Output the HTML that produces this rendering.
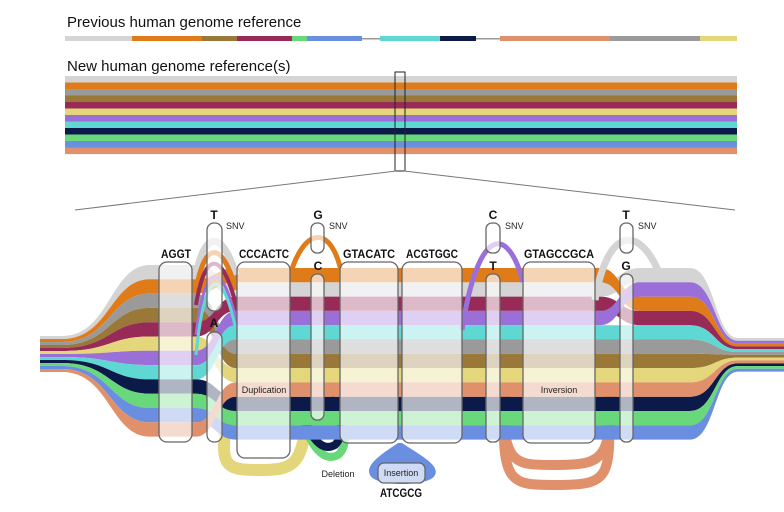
<!DOCTYPE html>
<html><head><meta charset="utf-8"><style>
html,body{margin:0;padding:0;background:#fff;width:784px;height:512px;overflow:hidden}
svg{display:block}
.t{font-family:"Liberation Sans",sans-serif;fill:#111}
.b{font-family:"Liberation Sans Narrow","Liberation Sans",sans-serif;font-weight:bold;font-size:12px;fill:#111;text-anchor:middle}
.s{font-family:"Liberation Sans Narrow","Liberation Sans",sans-serif;font-size:9px;fill:#222}
</style></head><body>
<svg id="sv" width="784" height="512" viewBox="0 0 784 512" xmlns="http://www.w3.org/2000/svg">
<text class="t" x="67" y="27" font-size="15">Previous human genome reference</text>
<g id="top"></g>
<text class="t" x="67" y="71" font-size="15">New human genome reference(s)</text>
<g id="stk"></g>
<rect x="395" y="72" width="10" height="99" fill="none" stroke="#222" stroke-width="1"/>
<line x1="396" y1="171" x2="75" y2="210" stroke="#777" stroke-width="1"/>
<line x1="404" y1="171" x2="735" y2="210" stroke="#777" stroke-width="1"/>
<g id="loops"></g>
<g id="bands"></g>
<g id="arcs"></g>
<g id="boxes" fill="#fff" fill-opacity="0.68" stroke="#666" stroke-width="1.3"></g>
<text class="b" x="176" y="258" textLength="30" lengthAdjust="spacingAndGlyphs">AGGT</text>
<text class="b" x="264" y="258" textLength="50" lengthAdjust="spacingAndGlyphs">CCCACTC</text>
<text class="b" x="369" y="258" textLength="52" lengthAdjust="spacingAndGlyphs">GTACATC</text>
<text class="b" x="432" y="258" textLength="52" lengthAdjust="spacingAndGlyphs">ACGTGGC</text>
<text class="b" x="559" y="258" textLength="70" lengthAdjust="spacingAndGlyphs">GTAGCCGCA</text>
<text class="b" x="214" y="219">T</text><text class="s" x="226" y="229">SNV</text>
<text class="b" x="214" y="327">A</text>
<text class="b" x="318" y="219">G</text><text class="s" x="329" y="229">SNV</text>
<text class="b" x="318" y="270">C</text>
<text class="b" x="493" y="219">C</text><text class="s" x="505" y="229">SNV</text>
<text class="b" x="493" y="270">T</text>
<text class="b" x="626" y="219">T</text><text class="s" x="638" y="229">SNV</text>
<text class="b" x="626" y="270">G</text>
<text class="s" x="264" y="393" text-anchor="middle" font-size="10">Duplication</text>
<text class="s" x="338" y="477" text-anchor="middle" font-size="10">Deletion</text>
<text class="s" x="401" y="476" text-anchor="middle" font-size="10">Insertion</text>
<text class="b" x="401" y="497" textLength="42" lengthAdjust="spacingAndGlyphs">ATCGCG</text>
<text class="s" x="559" y="393" text-anchor="middle" font-size="10">Inversion</text>
</svg>
<script>
var NS="http://www.w3.org/2000/svg";
function el(p,t,a){var e=document.createElementNS(NS,t);for(var k in a)e.setAttribute(k,a[k]);document.getElementById(p).appendChild(e);return e;}
var C={lg:"#d4d4d4",or:"#e07b1a",gr:"#9a9a9a",br:"#9a7838",ma:"#982a58",ye:"#e4d67a",pu:"#9b6fd8",cy:"#5fd8d4",na:"#0b1a48",gn:"#68d87a",bl:"#6a8ee0",sa:"#e0906a"};
[[65,132,"lg"],[132,202,"or"],[202,237,"br"],[237,292,"ma"],[292,307,"gn"],[307,362,"bl"],[380,440,"cy"],[440,476,"na"],[500,610,"sa"],[610,700,"gr"],[700,737,"ye"]].forEach(function(s){el("top","rect",{x:s[0],y:36,width:s[1]-s[0],height:5,fill:C[s[2]]});});
el("top","rect",{x:362,y:38,width:18,height:1.5,fill:"#999"});el("top","rect",{x:476,y:38,width:24,height:1.5,fill:"#999"});
var L=["lg","or","gr","br","ma","ye","pu","cy","na","gn","bl","sa"];
L.forEach(function(c,i){el("stk","rect",{x:65,y:76+i*6.5,width:672,height:6.6,fill:C[c]});});
var M=["or","lg","ma","pu","cy","gr","br","ye","sa","na","gn","bl"];
var R=["lg","pu","or","ma","cy","gr","br","ye","sa","na","gn","bl"];
var h=14.3;
L.forEach(function(c,li){
 var mi=M.indexOf(c),ri=R.indexOf(c);
 function edge(o){var a=336+li*3+(o?3:0),b=265+li*h+(o?h:0),m=268+mi*h+(o?h:0),d=268+ri*h+(o?h:0),e=338+ri*2.8+(o?2.8:0);
  return [a,b,m,d,e];}
 var t=edge(0),u=edge(1);
 var d="M40,"+t[0]+" L62,"+t[0]+" C110,"+t[0]+" 110,"+t[1]+" 150,"+t[1]+" L196,"+t[1]+" C216,"+t[1]+" 216,"+t[2]+" 236,"+t[2]+" L600,"+t[2]+" C620,"+t[2]+" 620,"+t[3]+" 640,"+t[3]+" L690,"+t[3]+" C715,"+t[3]+" 715,"+t[4]+" 738,"+t[4]+" L784,"+t[4]+
 " L784,"+u[4]+" L738,"+u[4]+" C715,"+u[4]+" 715,"+u[3]+" 690,"+u[3]+" L640,"+u[3]+" C620,"+u[3]+" 620,"+u[2]+" 600,"+u[2]+" L236,"+u[2]+" C216,"+u[2]+" 216,"+u[1]+" 196,"+u[1]+" L150,"+u[1]+" C110,"+u[1]+" 110,"+u[0]+" 62,"+u[0]+" L40,"+u[0]+" Z";
 el("bands","path",{d:d,fill:C[c]});
});
function arc(p,d,c,w){el(p,"path",{d:d,fill:"none",stroke:c,"stroke-width":w||5});}
arc("arcs","M196,275 C205,230 222,230 236,275","#d4d4d4",7);
arc("arcs","M196,290 C205,240 222,240 236,290",C.or,5);
arc("arcs","M196,305 C205,250 222,250 236,305",C.ma,4);
arc("arcs","M196,335 C205,260 222,260 236,320",C.pu,3);
arc("arcs","M196,355 C205,265 222,265 236,330",C.cy,3);
arc("arcs","M290,275 C305,225 332,225 342,275",C.or,5);
arc("arcs","M462,330 C478,225 508,225 523,282",C.pu,5);
arc("arcs","M595,300 C608,225 640,225 660,275",C.lg,7);
arc("loops","M232,400 C215,470 225,470 262,470 C300,470 302,460 310,400",C.ye,12);
arc("loops","M300,410 C310,450 325,462 338,455 C350,445 345,420 332,400",C.gn,8);
arc("loops","M300,405 C310,440 322,452 335,445 C345,435 342,415 330,398",C.na,8);
el("loops","path",{d:"M398,443 C380,455 365,465 370,475 C375,487 430,487 435,475 C440,465 420,455 402,443 Z",fill:C.bl});
arc("loops","M500,385 C505,465 510,465 555,465 C605,465 610,460 612,385",C.sa,10);
arc("loops","M505,395 C500,485 510,485 555,485 C610,485 612,480 608,395",C.sa,10);
[[159,262,33,180,8],[207,223,15,88,7],[207,332,15,110,7],[237,262,53,196,8],[311,223,13,30,6],[311,274,13,146,6],[340,262,58,181,8],[402,262,60,181,8],[486,223,14,30,6],[486,274,14,168,6],[523,262,72,181,8],[620,223,13,30,6],[620,274,13,168,6],[378,463,47,20,6]].forEach(function(b){el("boxes","rect",{x:b[0],y:b[1],width:b[2],height:b[3],rx:b[4]});});
</script>
</body></html>
